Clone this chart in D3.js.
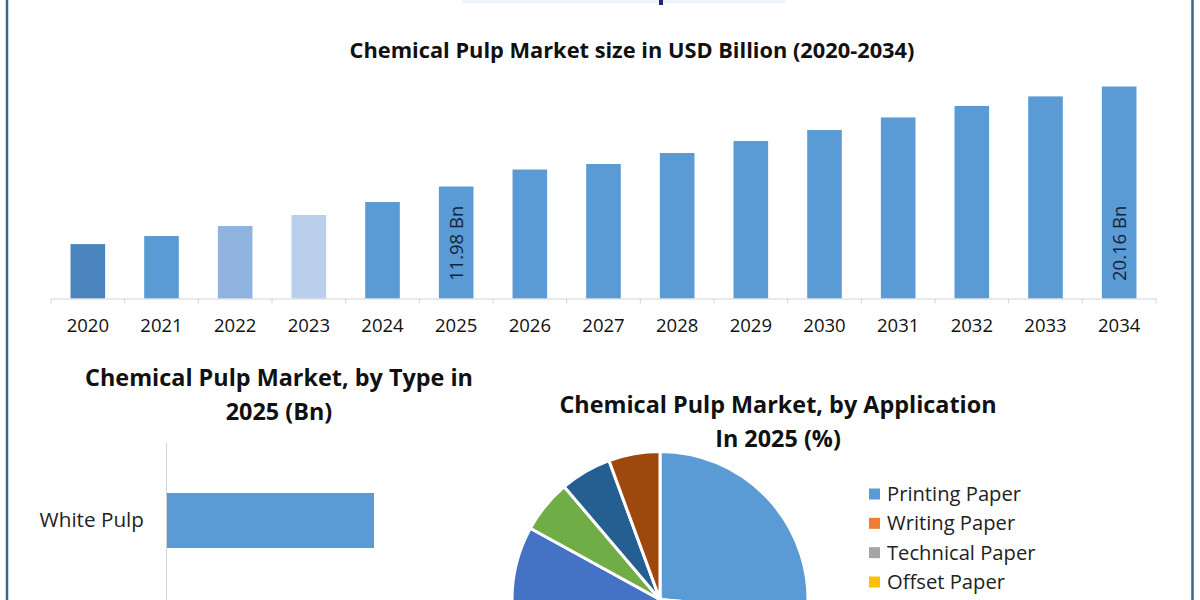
<!DOCTYPE html>
<html>
<head>
<meta charset="utf-8">
<script src="https://cdn.jsdelivr.net/npm/d3@7/dist/d3.min.js"></script>
<style>
  html, body { margin: 0; padding: 0; background: #fff; overflow: hidden; }
  text { font-family: "Open Sans", "Noto Sans", sans-serif; }
</style>
</head>
<body>
<svg id="chart" width="1200" height="600"></svg>
<script>
// market size (axis in the picture does not start at zero)
const years = ['2020', '2021', '2022', '2023', '2024', '2025', '2026', '2027', '2028', '2029', '2030', '2031', '2032', '2033', '2034']
const sizes = [7.27, 7.93, 8.75, 9.65, 10.71, 11.98, 13.37, 13.82, 14.72, 15.70, 16.60, 17.63, 18.57, 19.35, 20.16]
const sizeLabels = { 2025: '11.98 Bn', 2034: '20.16 Bn' }
const barColors = ['#4a86bd', '#5b9bd5', '#8fb3de', '#b9cfeb', '#5b9bd5', '#5b9bd5', '#5b9bd5', '#5b9bd5', '#5b9bd5', '#5b9bd5', '#5b9bd5', '#5b9bd5', '#5b9bd5', '#5b9bd5', '#5b9bd5']

const types = ['White Pulp']
const typeValues = [7.4]

// the picture is cut at the bottom: only four legend names show, the slices below the edge are estimates
const legendApps = ['Printing Paper', 'Writing Paper', 'Technical Paper', 'Offset Paper']
const appShares = [26.4, 14, 14, 12.6, 16, 5.8, 5.6, 5.6]
const appColors = ['#5b9bd5', '#ed7d31', '#a5a5a5', '#ffc000', '#4472c4', '#70ad47', '#255e91', '#9e480e']

const svg = d3.select('#chart')
const ink = '#111'

// frame
svg.append('line').attr('x1', 7).attr('x2', 7).attr('y1', 0).attr('y2', 600).attr('stroke', '#3d6585').attr('stroke-width', 2.5)
svg.append('line').attr('x1', 1192.5).attr('x2', 1192.5).attr('y1', 0).attr('y2', 600).attr('stroke', '#3d6585').attr('stroke-width', 2.5)

// leftovers of the heading that is cropped off at the top edge
svg.append('rect').attr('x', 462).attr('y', 0).attr('width', 323).attr('height', 3).attr('fill', '#edf4fb')
svg.append('rect').attr('x', 659).attr('y', 0).attr('width', 4).attr('height', 5).attr('fill', '#1f2a6b')

function title (lines, cx, y, size) {
  lines.forEach((t, i) => {
    svg.append('text').attr('x', cx).attr('y', y + i * size * 1.45)
      .attr('text-anchor', 'middle').attr('font-size', size).attr('font-weight', 700)
      .attr('fill', ink).text(t)
  })
}

// top column chart
title(['Chemical Pulp Market size in USD Billion (2020-2034)'], 632, 58, 21.8)

const x = d3.scaleBand().domain(years).range([51, 1156]).paddingInner(0.53).paddingOuter(0.265)
const y = d3.scaleLinear().domain([2.82, 20.16]).range([298.5, 86.5])

svg.selectAll('rect.size').data(years).enter().append('rect')
  .attr('class', 'size')
  .attr('x', d => x(d))
  .attr('width', x.bandwidth())
  .attr('y', (d, i) => y(sizes[i]))
  .attr('height', (d, i) => y.range()[0] - y(sizes[i]))
  .attr('fill', (d, i) => barColors[i])

const xAxis = d3.axisBottom(x).tickSize(0).tickPadding(20)
const gx = svg.append('g').attr('transform', 'translate(0,' + y.range()[0] + ')').call(xAxis)
gx.select('.domain').attr('stroke', '#d4d4d4')
gx.selectAll('text').attr('font-size', 18.5).attr('fill', ink).style('font-family', '"Open Sans", sans-serif')

// tick marks sit between the bars
const step = x.step()
gx.selectAll('line.sep').data(d3.range(years.length + 1)).enter().append('line')
  .attr('class', 'sep')
  .attr('x1', i => x.range()[0] + i * step).attr('x2', i => x.range()[0] + i * step)
  .attr('y1', 0).attr('y2', 5).attr('stroke', '#d4d4d4')

Object.keys(sizeLabels).forEach(k => {
  const cx = x(k) + x.bandwidth() / 2
  svg.append('text')
    .attr('transform', 'translate(' + (cx + 6.5) + ',281) rotate(-90)')
    .attr('font-size', 18.5).attr('fill', '#12243a').text(sizeLabels[k])
})

// bottom left bar chart
title(['Chemical Pulp Market, by Type in', '2025 (Bn)'], 279, 386, 23.4)

const bx = d3.scaleLinear().domain([0, 7.4]).range([167, 374])
const by = d3.scaleBand().domain(types).range([465.5, 575.5]).padding(1 / 3)

svg.selectAll('rect.type').data(types).enter().append('rect')
  .attr('class', 'type')
  .attr('x', bx(0))
  .attr('y', d => by(d))
  .attr('width', (d, i) => bx(typeValues[i]) - bx(0))
  .attr('height', by.bandwidth())
  .attr('fill', '#5b9bd5')

svg.append('line').attr('x1', 166.5).attr('x2', 166.5).attr('y1', 443).attr('y2', 600).attr('stroke', '#d4d4d4')
svg.selectAll('text.type').data(types).enter().append('text')
  .attr('class', 'type')
  .attr('x', 144).attr('y', d => by(d) + by.bandwidth() / 2 + 6)
  .attr('text-anchor', 'end').attr('font-size', 20.7).attr('fill', '#222').text(d => d)

// pie
title(['Chemical Pulp Market, by Application', 'In 2025 (%)'], 778, 413, 23.4)

const pie = d3.pie().sort(null)
const arc = d3.arc().innerRadius(0).outerRadius(148)
svg.append('g').attr('transform', 'translate(660,599.5)')
  .selectAll('path').data(pie(appShares)).enter().append('path')
  .attr('d', arc)
  .attr('fill', (d, i) => appColors[i])
  .attr('stroke', '#fff').attr('stroke-width', 3)

// legend
const ly = d3.scalePoint().domain(legendApps).range([494, 582])
const legend = svg.selectAll('g.leg').data(legendApps).enter().append('g')
  .attr('class', 'leg').attr('transform', d => 'translate(869,' + ly(d) + ')')
legend.append('rect').attr('y', -5.5).attr('width', 11).attr('height', 11)
  .attr('fill', (d, i) => appColors[i])
legend.append('text').attr('x', 18).attr('y', 7).attr('font-size', 20.2).attr('fill', '#222').text(d => d)
</script>
</body>
</html>
